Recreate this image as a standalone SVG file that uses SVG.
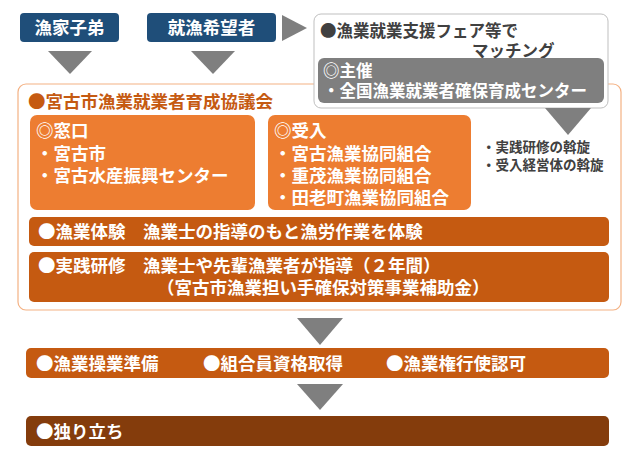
<svg xmlns="http://www.w3.org/2000/svg" width="639" height="463" viewBox="0 0 639 463">
<style>
text{font-family:"Noto Sans CJK JP","Noto Sans CJK SC",sans-serif;font-weight:bold;fill:#fff}
.t16{font-size:17.5px}
.t15{font-size:16.5px}
.t13{font-size:13.5px}
.navy{fill:#1F4E79}
.tri{fill:#7F7F7F}
.or{fill:#ED7D31}
.br{fill:#C55A11}
.dk{fill:#843C0C}
</style>
<rect width="639" height="463" fill="#fff"/>
<g id="outer"><rect x="18" y="84" width="603" height="226" rx="8" fill="#fff" stroke="#F4B183" stroke-width="1.2"/>
<text x="28" y="108" class="t16" style="fill:#C55A11">●宮古市漁業就業者育成協議会</text></g>
<g id="n1"><rect x="20" y="13" width="99" height="29" rx="4" class="navy"/><text x="69.5" y="34" class="t16" text-anchor="middle">漁家子弟</text></g>
<g id="n2"><rect x="147" y="13" width="129" height="29" rx="4" class="navy"/><text x="211.5" y="34" class="t16" text-anchor="middle">就漁希望者</text></g>
<g id="fair"><rect x="314" y="14" width="294" height="94" rx="7" fill="#fff" stroke="#BFBFBF"/>
<text x="320" y="37" class="t15" style="fill:#404040">●漁業就業支援フェア等で</text>
<text x="472" y="57" class="t15" style="fill:#404040">マッチング</text>
<rect x="318" y="58" width="286" height="45" rx="6" fill="#7F7F7F"/>
<text x="323" y="77" class="t15">◎主催</text>
<text x="323" y="97" class="t15">・全国漁業就業者確保育成センター</text></g>
<g id="madoguchi"><rect x="30" y="115" width="225" height="95" rx="7" class="or"/>
<text x="36" y="137" class="t16">◎窓口</text><text x="36" y="160" class="t16">・宮古市</text><text x="36" y="182" class="t16">・宮古水産振興センター</text></g>
<g id="ukeire"><rect x="268" y="115" width="203" height="95" rx="7" class="or"/>
<text x="274" y="137" class="t16">◎受入</text><text x="274" y="160" class="t16">・宮古漁業協同組合</text><text x="274" y="182" class="t16">・重茂漁業協同組合</text><text x="274" y="204" class="t16">・田老町漁業協同組合</text></g>
<g id="assen"><text x="482" y="152" class="t13" style="fill:#404040">・実践研修の斡旋</text><text x="482" y="170" class="t13" style="fill:#404040">・受入経営体の斡旋</text></g>
<g id="taiken"><rect x="29" y="217" width="580" height="29" rx="5" class="br"/><text x="38" y="238" class="t16">●漁業体験　漁業士の指導のもと漁労作業を体験</text></g>
<g id="jissen"><rect x="29" y="252" width="580" height="50" rx="5" class="br"/><text x="38" y="272" class="t16">●実践研修　漁業士や先輩漁業者が指導（２年間）</text><text x="157" y="294" class="t16">（宮古市漁業担い手確保対策事業補助金）</text></g>
<g id="junbi"><rect x="26" y="348" width="583" height="30" rx="5" class="br"/><text x="36" y="370" class="t16">●漁業操業準備</text><text x="203" y="370" class="t16">●組合員資格取得</text><text x="386" y="370" class="t16">●漁業権行使認可</text></g>
<g id="hitoritachi"><rect x="26" y="416" width="583" height="30" rx="5" class="dk"/><text x="36" y="438" class="t16">●独り立ち</text></g>
<g id="connectors">
<polygon class="tri" points="282,15 307,28 282,41"/>
<polygon class="tri" points="48,51 92,51 70,74"/>
<polygon class="tri" points="191,51 235,51 213,74"/>
<polygon class="tri" points="545,108 591,108 568,135"/>
<polygon class="tri" points="297,318 343,318 320,345"/>
<polygon class="tri" points="297,384 343,384 320,410"/>
</g>
</svg>
